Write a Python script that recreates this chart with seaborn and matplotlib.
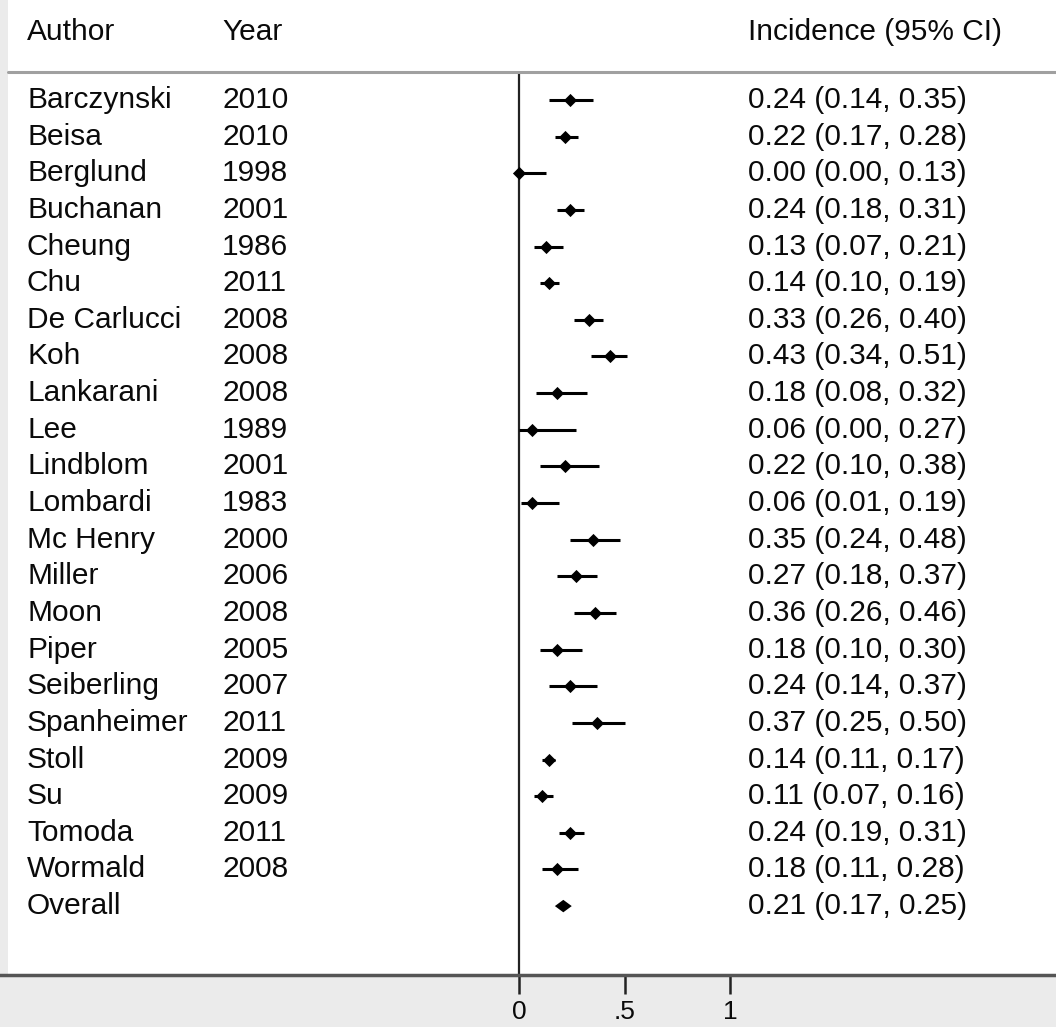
import numpy as np
import pandas as pd
import matplotlib
matplotlib.use('Agg')
import matplotlib.pyplot as plt
import seaborn as sns
from matplotlib.patches import Rectangle
from matplotlib.lines import Line2D

authors = ['Barczynski', 'Beisa', 'Berglund', 'Buchanan', 'Cheung', 'Chu',
           'De Carlucci', 'Koh', 'Lankarani', 'Lee', 'Lindblom', 'Lombardi',
           'Mc Henry', 'Miller', 'Moon', 'Piper', 'Seiberling', 'Spanheimer',
           'Stoll', 'Su', 'Tomoda', 'Wormald']
years = ['2010', '2010', '1998', '2001', '1986', '2011', '2008', '2008', '2008',
         '1989', '2001', '1983', '2000', '2006', '2008', '2005', '2007', '2011',
         '2009', '2009', '2011', '2008']
est = [0.24, 0.22, 0.00, 0.24, 0.13, 0.14, 0.33, 0.43, 0.18, 0.06, 0.22, 0.06,
       0.35, 0.27, 0.36, 0.18, 0.24, 0.37, 0.14, 0.11, 0.24, 0.18]
lo = [0.14, 0.17, 0.00, 0.18, 0.07, 0.10, 0.26, 0.34, 0.08, 0.00, 0.10, 0.01,
      0.24, 0.18, 0.26, 0.10, 0.14, 0.25, 0.11, 0.07, 0.19, 0.11]
hi = [0.35, 0.28, 0.13, 0.31, 0.21, 0.19, 0.40, 0.51, 0.32, 0.27, 0.38, 0.19,
      0.48, 0.37, 0.46, 0.30, 0.37, 0.50, 0.17, 0.16, 0.31, 0.28]
overall = (0.21, 0.17, 0.25)
xticks = [0, 0.5, 1]
xticklabels = ['0', '.5', '1']

df = pd.DataFrame({'author': authors, 'year': years, 'est': est, 'lo': lo, 'hi': hi})
df['row'] = np.arange(len(df))

sns.set_style('white')
plt.rcParams['font.family'] = ['Liberation Sans', 'DejaVu Sans']

W, H = 1056, 1027
fig = plt.figure(figsize=(W / 100, H / 100), dpi=100, facecolor='#ebebeb')
# white panel above the axis line, right of the thin grey strip
fig.patches.append(Rectangle((8 / W, (H - 975) / H), 1, 975 / H,
                             transform=fig.transFigure, facecolor='white',
                             edgecolor='none', zorder=-5))

top_px, bot_px = 72, 975
ax = fig.add_axes([0, (H - bot_px) / H, 1, (bot_px - top_px) / H])
ax.set_facecolor('none')
ax.set_zorder(2)

# x scale: 0 -> 519 px, 1 -> 730 px
ppu = 211.0
ax.set_xlim(-519 / ppu, (W - 519) / ppu)
row0, dy = 100, 36.64
ax.set_ylim((bot_px - row0) / dy, (top_px - row0) / dy)

ax.axvline(0, color='#222222', lw=1.6, zorder=1)

ax.hlines(df['row'], df['lo'], df['hi'], color='black', lw=2.2, zorder=2)
sns.scatterplot(data=df, x='est', y='row', marker='D', s=45, color='black',
                edgecolor='black', linewidth=0, ax=ax, zorder=3)

# overall diamond
orow = len(df)
oe, ol, oh = overall
ax.fill([ol, oe, oh, oe], [orow, orow - 0.17, orow, orow + 0.17],
        color='black', lw=0, zorder=3)

fs = 21.5
tc = '#0a0a0a'
yt = ax.get_yaxis_transform()
for i, r in df.iterrows():
    y = r['row']
    ax.text(27 / W, y, r['author'], transform=yt, fontsize=fs, va='center',
            ha='left', color=tc)
    ax.text(222 / W, y, r['year'], transform=yt, fontsize=fs, va='center',
            ha='left', color=tc)
    ax.text(748 / W, y, f"{r['est']:.2f} ({r['lo']:.2f}, {r['hi']:.2f})",
            transform=yt, fontsize=fs, va='center', ha='left', color=tc)
ax.text(27 / W, orow, 'Overall', transform=yt, fontsize=fs, va='center',
        ha='left', color=tc)
ax.text(748 / W, orow, f"{oe:.2f} ({ol:.2f}, {oh:.2f})", transform=yt,
        fontsize=fs, va='center', ha='left', color=tc)

# header
hy = 1 - 32 / H
fig.text(27 / W, hy, 'Author', fontsize=fs, va='center', ha='left', color=tc)
fig.text(222 / W, hy, 'Year', fontsize=fs, va='center', ha='left', color=tc)
fig.text(748 / W, hy, 'Incidence (95% CI)', fontsize=fs, va='center', ha='left',
         color=tc)
fig.lines.append(Line2D([8 / W, 1], [1 - top_px / H] * 2, transform=fig.transFigure,
                        color='#a0a0a0', lw=2.2))

for s in ['top', 'right', 'left']:
    ax.spines[s].set_visible(False)
ax.spines['bottom'].set_color('#555555')
ax.spines['bottom'].set_linewidth(2.5)
ax.set_yticks([])
ax.set_xticks(xticks)
ax.set_xticklabels(xticklabels)
ax.tick_params(axis='x', direction='out', length=14, width=1.8, color='#222222',
               labelsize=19, pad=4, bottom=True, labelcolor=tc)
ax.set_xlabel('')
ax.set_ylabel('')

fig.savefig('out.png', dpi=100, facecolor=fig.get_facecolor())
